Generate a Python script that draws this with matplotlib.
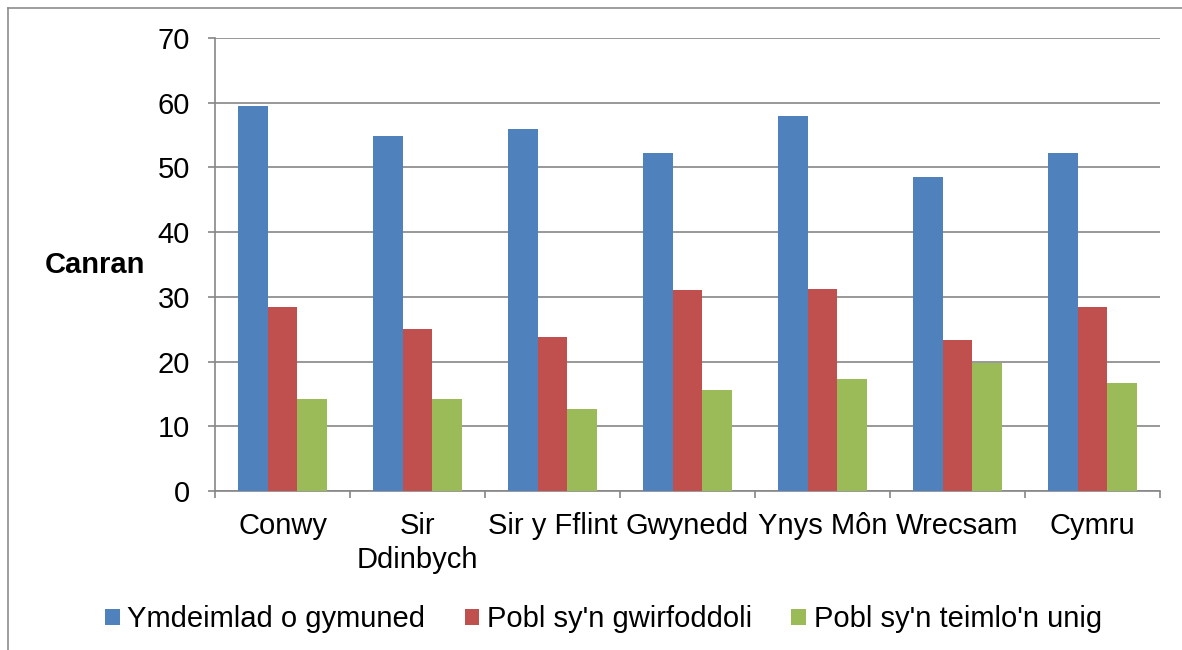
import matplotlib.pyplot as plt
import numpy as np
from matplotlib.lines import Line2D

plt.rcParams['font.family'] = ['Liberation Sans', 'DejaVu Sans']

# Datos
ardaloedd = ['Conwy', 'Sir\nDdinbych', 'Sir y Fflint', 'Gwynedd', 'Ynys Môn', 'Wrecsam', 'Cymru']
cymuned = [59.5, 54.8, 56.0, 52.2, 57.9, 48.5, 52.2]
gwirfoddoli = [28.4, 25.1, 23.8, 31.0, 31.2, 23.3, 28.5]
unig = [14.2, 14.2, 12.7, 15.6, 17.3, 19.8, 16.7]
cyfresi = ["Ymdeimlad o gymuned", "Pobl sy'n gwirfoddoli", "Pobl sy'n teimlo'n unig"]
lliwiau = ['#4F81BD', '#C0504D', '#9BBB59']
grid_col = '#868686'
fs = 21

fig = plt.figure(figsize=(11.82, 6.5), dpi=100)
ax = fig.add_axes([0.1819, 0.2446, 0.7995, 0.6969])

x = np.arange(len(ardaloedd))
w = 0.222
for i, (vals, lab, col) in enumerate(zip([cymuned, gwirfoddoli, unig], cyfresi, lliwiau)):
    ax.bar(x + (i - 1) * w, vals, width=w, color=col, label=lab, zorder=3)

# Ejes
ax.set_xlim(-0.5, len(ardaloedd) - 0.5)
ax.set_ylim(0, 70)
ax.set_yticks(np.arange(0, 71, 10))
ax.yaxis.grid(True, color=grid_col, linewidth=1.2)
ax.set_axisbelow(True)
for s in ['top', 'right']:
    ax.spines[s].set_visible(False)
for s in ['left', 'bottom']:
    ax.spines[s].set_color(grid_col)
    ax.spines[s].set_linewidth(1.2)

ax.set_xticks(x)
ax.set_xticklabels(ardaloedd, fontsize=fs, linespacing=1.3)
ax.set_xticks(np.arange(-0.5, len(ardaloedd)), minor=True)
ax.tick_params(axis='x', which='major', length=0, pad=15)
ax.tick_params(axis='x', which='minor', length=5, width=1.2, color=grid_col, direction='out')
ax.tick_params(axis='y', length=5, width=1.2, color=grid_col, labelsize=fs, pad=13)

ax.set_ylabel('Canran', rotation=0, fontsize=fs, fontweight='bold', ha='right', va='center')
ax.yaxis.set_label_coords(-0.074, 0.5)

# Leyenda
ax.legend(loc='center', bbox_to_anchor=(0.5106, 0.047), bbox_transform=fig.transFigure,
          ncol=3, frameon=False, fontsize=fs, handlelength=0.5, handleheight=0.5,
          handletextpad=0.26, columnspacing=1.35, borderpad=0)

# Marco
fig.add_artist(Line2D([8 / 1182, 8 / 1182], [0, 1 - 8 / 650], color='#8c8c8c', linewidth=1.2))
fig.add_artist(Line2D([8 / 1182, 1], [1 - 8 / 650, 1 - 8 / 650], color='#8c8c8c', linewidth=1.2))

fig.savefig('out.png', dpi=100)
